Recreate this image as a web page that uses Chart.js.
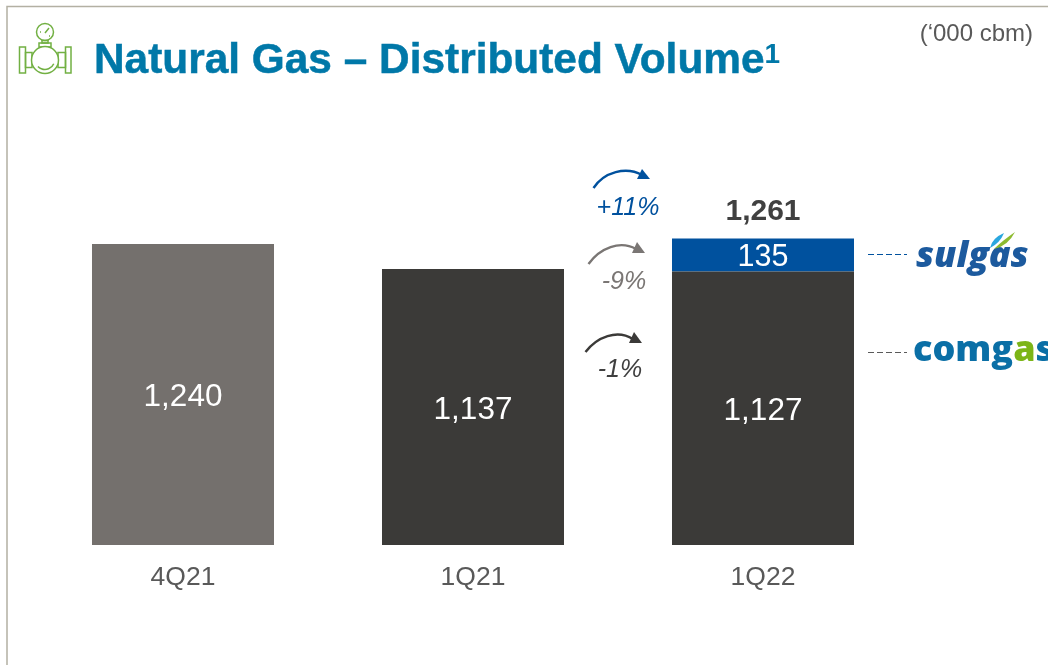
<!DOCTYPE html>
<html><head><meta charset="utf-8">
<style>html,body{margin:0;padding:0;background:#fff}#c{display:block}</style>
<script src="https://cdn.jsdelivr.net/npm/chart.js@4"></script>
</head><body>
<div style="width:1048px;height:665px;position:relative"><canvas id="c" width="1048" height="665"></canvas></div>
<script>
const categories = ['4Q21','1Q21','1Q22'];
const comgasValues = [1240,1137,1127];
const sulgasValues = [null,null,135];
const totalLabel = '1,261';
const comgasColors = ['#74706d','#3b3a38','#3b3a38'];
const sulgasColor = '#00519e';
const titleText = 'Natural Gas – Distributed Volume';
const unitText = '(‘000 cbm)';
const fmt = v => v.toLocaleString('en-US');
const SANS = '"Liberation Sans", Arial, sans-serif';

function arrow(ctx,p,head,color){
  ctx.strokeStyle=color;ctx.fillStyle=color;ctx.lineWidth=2.4;ctx.lineCap='butt';
  ctx.beginPath();ctx.moveTo(p[0],p[1]);ctx.bezierCurveTo(p[2],p[3],p[4],p[5],p[6],p[7]);ctx.stroke();
  ctx.beginPath();ctx.moveTo(head[0],head[1]);ctx.lineTo(head[2],head[3]);ctx.lineTo(head[4],head[5]);ctx.closePath();ctx.fill();
}
function txt(ctx,s,x,y,font,color,align){
  ctx.font=font;ctx.fillStyle=color;ctx.textAlign=align||'center';ctx.textBaseline='middle';ctx.fillText(s,x,y);
}
function icon(ctx){
  const g='#72b043';ctx.strokeStyle=g;ctx.lineWidth=1.5;
  const R=(x,y,w,h)=>ctx.strokeRect(x,y,w,h);
  const C=(x,y,r,a,b)=>{ctx.beginPath();ctx.arc(x,y,r,a===undefined?0:a,b===undefined?Math.PI*2:b);ctx.stroke();};
  C(45,32,8.5);R(39,43,12,4);R(42,40.5,6,2.5);
  R(19.5,47,6,26);R(65.5,47,5.5,26);
  R(25.5,52.5,6.5,15);R(58,52.5,7.5,15);
  ctx.beginPath();ctx.moveTo(45,33);ctx.lineTo(49,28);ctx.moveTo(40,32);ctx.lineTo(41,32);ctx.moveTo(49,36);ctx.lineTo(50,36);ctx.stroke();
  ctx.fillStyle='#fff';ctx.beginPath();ctx.arc(45,60,13.5,0,Math.PI*2);ctx.fill();
  C(45,60,13.5);C(45,60,9.5,0.4,2.4);
}
function logos(ctx){
  txt(ctx,'sulgas',916,257,'italic 800 36px "Open Sans", sans-serif','#1c5a9e','left');
  ctx.fillStyle='#2aa7df';ctx.beginPath();ctx.moveTo(990,248);ctx.quadraticCurveTo(992,238,1004,233);ctx.quadraticCurveTo(1000,243,990,248);ctx.fill();
  ctx.fillStyle='#8dbb2f';ctx.beginPath();ctx.moveTo(994,249);ctx.quadraticCurveTo(1002,241,1015,232);ctx.quadraticCurveTo(1008,246,994,249);ctx.fill();
  const parts=[['comg','#0a6fa6'],['a','#7cb518'],['s','#0a6fa6']];
  let x=913;const f='800 36px "Open Sans", sans-serif';
  ctx.font=f;
  parts.forEach(p=>{txt(ctx,p[0],x,351,f,p[1],'left');x+=ctx.measureText(p[0]).width;});
}
const decor={
  id:'decor',
  afterDraw(chart){
    const ctx=chart.ctx,x=chart.scales.x,y=chart.scales.y;
    ctx.save();
    ctx.strokeStyle='#b3b0a3';ctx.lineWidth=1.5;
    ctx.beginPath();ctx.moveTo(7,665);ctx.lineTo(7,6.5);ctx.lineTo(1048,6.5);ctx.stroke();
    icon(ctx);
    const tf='bold 42.4px '+SANS;
    txt(ctx,titleText,94,61,tf,'#0078a8','left');
    ctx.strokeStyle='#0078a8';ctx.lineWidth=0.5;ctx.strokeText(titleText,94,61);
    ctx.font=tf;
    const tw=ctx.measureText(titleText).width;
    txt(ctx,'1',94+tw,55,'bold 28px '+SANS,'#0078a8','left');
    txt(ctx,unitText,1033,34,'24px '+SANS,'#595959','right');
    categories.forEach((c,i)=>{
      const cx=x.getPixelForValue(i);
      txt(ctx,fmt(comgasValues[i]),cx,(y.getPixelForValue(comgasValues[i])+y.getPixelForValue(0))/2+3,'31.5px '+SANS,'#ffffff');
      if(sulgasValues[i]!=null){
        const a=y.getPixelForValue(comgasValues[i]),b=y.getPixelForValue(comgasValues[i]+sulgasValues[i]);
        txt(ctx,fmt(sulgasValues[i]),cx,(a+b)/2+3,'30.5px '+SANS,'#ffffff');
        txt(ctx,totalLabel,cx,b-27,'bold 30px '+SANS,'#404040');
      }
    });
    arrow(ctx,[593.5,188,604,172,626,166,642,175],[642,169,650,179,637,179],'#00519e');
    txt(ctx,'+11%',628,208,'italic 25px '+SANS,'#00519e');
    arrow(ctx,[588.5,264,600,248,620,240,636,249],[637,242,645,253,632,253],'#7a7674');
    txt(ctx,'-9%',624,282,'italic 25px '+SANS,'#7a7674');
    arrow(ctx,[585.5,352,597,337,617,329,633,339],[634,332,642,343,629,343],'#3b3a38');
    txt(ctx,'-1%',620,370,'italic 25px '+SANS,'#404040');
    ctx.lineWidth=1.2;ctx.setLineDash([6,3]);
    ctx.strokeStyle='#00519e';ctx.beginPath();ctx.moveTo(868,254.5);ctx.lineTo(907,254.5);ctx.stroke();
    ctx.strokeStyle='#5a5a5a';ctx.beginPath();ctx.moveTo(868,352.5);ctx.lineTo(907,352.5);ctx.stroke();
    ctx.setLineDash([]);
    logos(ctx);
    ctx.restore();
  }
};
new Chart(document.getElementById('c'),{
  type:'bar',
  data:{labels:categories,datasets:[
    {label:'Comgás',data:comgasValues,backgroundColor:comgasColors,stack:'s'},
    {label:'Sulgás',data:sulgasValues,backgroundColor:sulgasColor,stack:'s'}
  ]},
  options:{
    responsive:false,animation:false,
    layout:{padding:{left:38,right:140,top:108,bottom:0}},
    datasets:{bar:{barPercentage:0.6276,categoryPercentage:1}},
    plugins:{legend:{display:false},tooltip:{enabled:false},title:{display:false}},
    scales:{
      x:{stacked:true,grid:{display:false},border:{display:false},
         afterFit(s){s.height=120;},
         ticks:{color:'#595959',font:{family:SANS,size:26.5},padding:9,maxRotation:0}},
      y:{stacked:true,display:false,min:0,max:1800}
    }
  },
  plugins:[decor]
});
</script>
</body></html>
